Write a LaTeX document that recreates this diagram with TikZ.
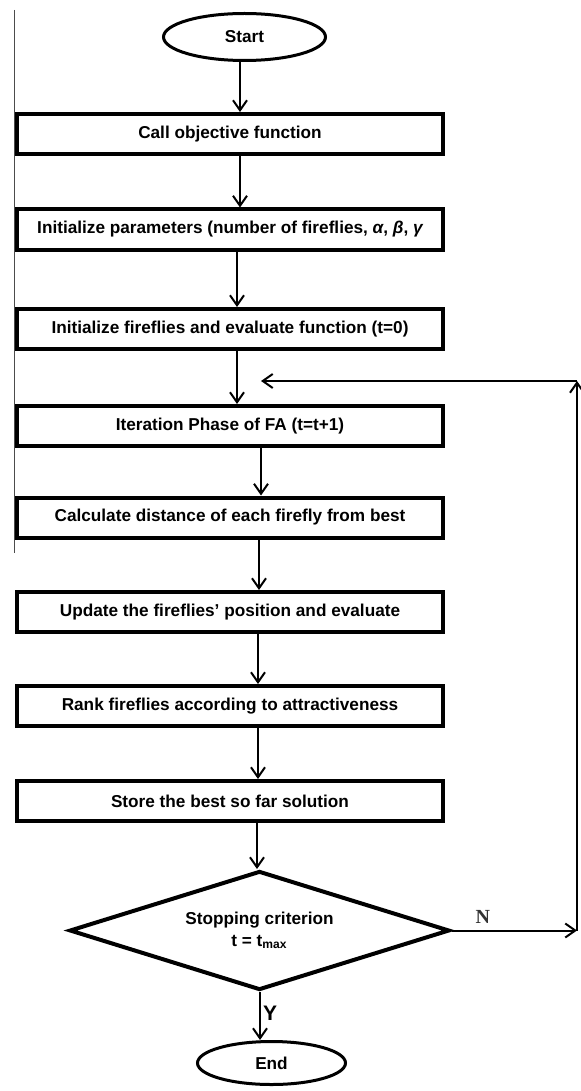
\documentclass[tikz,border=0pt]{standalone}
\usepackage{fontspec}
\setmainfont{Liberation Sans}
\newfontfamily\serifN{Liberation Serif}
\usetikzlibrary{shapes.geometric, arrows.meta}

\begin{document}
\begin{tikzpicture}[x=0.5pt, y=-0.5pt,
  every node/.style={font=\fontsize{8.6}{11}\selectfont\bfseries},
  stepbox/.style={draw, line width=2pt, minimum width=213pt, minimum height=20pt, inner sep=0pt},
  term/.style={draw, ellipse, line width=1.5pt, inner sep=0pt},
  decide/.style={draw, diamond, aspect=3.2, line width=2pt, minimum width=190pt, minimum height=59.5pt, inner sep=0pt, align=center},
  arr/.style={-{Straight Barb[length=5pt,width=7pt]}, line width=1pt}]
\useasboundingbox (0,0) rectangle (581,1091);
\draw[line width=0.5pt, black!70] (14,10) -- (14,553);

\node[term, minimum width=81pt, minimum height=23.5pt] (start) at (244.5,37) {Start};
\node[stepbox] (call) at (230,134) {Call objective function};
\node[stepbox] (param) at (230,229.5) {Initialize parameters (number of fireflies, {\itshape α}, {\itshape β}, {\itshape γ}};
\node[stepbox] (init) at (230,329) {Initialize fireflies and evaluate function (t=0)};
\node[stepbox] (iter) at (230,426) {Iteration Phase of FA (t=t+1)};
\node[stepbox] (dist) at (230,517.5) {Calculate distance of each firefly from best};
\node[stepbox] (upd) at (230,612) {Update the fireflies’ position and evaluate};
\node[stepbox] (rank) at (230,706) {Rank fireflies according to attractiveness};
\node[stepbox] (store) at (230,801) {Store the best so far solution};
\node[decide] (stop) at (259.5,930.5) {Stopping criterion\\t = t\textsubscript{max}};
\node[term, minimum width=74pt, minimum height=21.5pt] (end) at (271.5,1063) {End};

\coordinate (nr) at (577,930.5);
\coordinate (nt) at (577,381);
\coordinate (nl) at (261,381);

\draw[arr] (start.south -| 240,0) -- (call.north -| 240,0);
\draw[arr] (call.south -| 240,0) -- (param.north -| 240,0);
\draw[arr] (param.south -| 237,0) -- (init.north -| 237,0);
\draw[arr] (init.south -| 237,0) -- (iter.north -| 237,0);
\draw[arr] (iter.south -| 261,0) -- (dist.north -| 261,0);
\draw[arr] (dist.south -| 259,0) -- (upd.north -| 259,0);
\draw[arr] (upd.south -| 258,0) -- (rank.north -| 258,0);
\draw[arr] (rank.south -| 258,0) -- (store.north -| 258,0);
\draw[arr] (store.south -| 257,0) -- (stop.north -| 257,0);
\draw[arr] (stop.south -| 260,0) -- node[right, pos=0.45, inner sep=1pt, font=\fontsize{10.5}{12}\selectfont\bfseries] {Y} (end.north -| 260,0);
\draw[arr] (stop.east) -- node[above, pos=0.25, inner sep=3pt, font=\serifN\bfseries\fontsize{10}{12}\selectfont, text=black!80] {N} (nr);
\draw[arr] (nr) -- (nt);
\draw[arr] (nt) -- (nl);
\end{tikzpicture}
\end{document}
